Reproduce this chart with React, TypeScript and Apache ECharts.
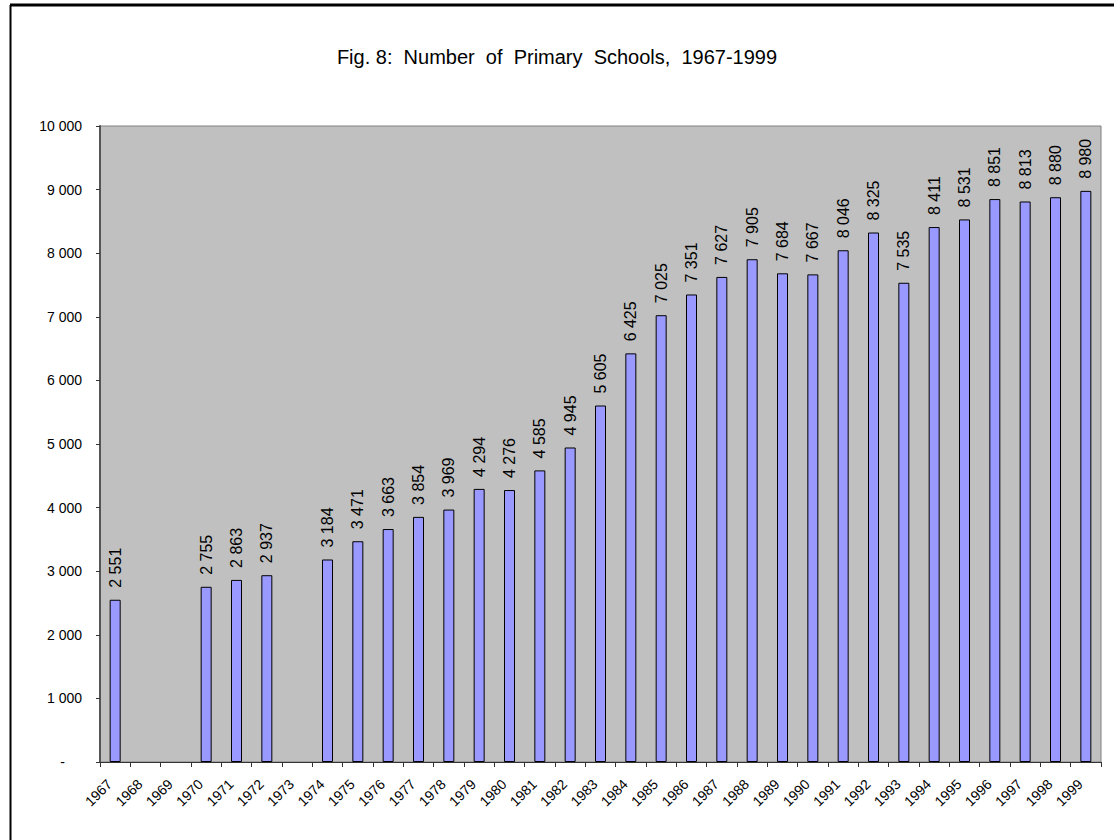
import React, { useEffect, useRef } from "react";
import * as echarts from "echarts";

const years = [
  "1967","1968","1969","1970","1971","1972","1973","1974","1975","1976","1977",
  "1978","1979","1980","1981","1982","1983","1984","1985","1986","1987","1988",
  "1989","1990","1991","1992","1993","1994","1995","1996","1997","1998","1999",
];
const schools: (number | null)[] = [
  2551, null, null, 2755, 2863, 2937, null, 3184, 3471, 3663, 3854,
  3969, 4294, 4276, 4585, 4945, 5605, 6425, 7025, 7351, 7627, 7905,
  7684, 7667, 8046, 8325, 7535, 8411, 8531, 8851, 8813, 8880, 8980,
];
const titleText = "Fig. 8:  Number  of  Primary  Schools,  1967-1999";

const FONT = "'Liberation Sans', Arial, sans-serif";
const fmt = (v: number) =>
  String(Math.round(v)).replace(/\B(?=(\d{3})+(?!\d))/g, " ");

export default function App() {
  const ref = useRef<HTMLDivElement>(null);
  useEffect(() => {
    if (!ref.current) return;
    const chart = echarts.init(ref.current, undefined, { renderer: "svg" });
    chart.setOption({
      animation: false,
      backgroundColor: "#ffffff",
      title: {
        text: titleText,
        left: "center",
        top: 42,
        textStyle: { fontFamily: FONT, fontSize: 20, fontWeight: "normal", color: "#000" },
      },
      grid: {
        left: 100,
        right: 13,
        top: 126,
        bottom: 78,
        show: true,
        backgroundColor: "#C0C0C0",
        borderColor: "#808080",
        borderWidth: 1,
      },
      xAxis: {
        type: "category",
        data: years,
        axisLine: { show: true, lineStyle: { color: "#333", width: 1 } },
        axisTick: { show: true, length: 5, lineStyle: { color: "#333" } },
        axisLabel: {
          rotate: 45,
          interval: 0,
          margin: 14,
          fontFamily: FONT,
          fontSize: 14,
          color: "#000",
          formatter: (v: string) => "{y|" + v + "}",
          rich: {
            y: { fontFamily: FONT, fontSize: 14, color: "#000", padding: [0, 8, 0, 0] },
          },
        },
      },
      yAxis: {
        type: "value",
        min: 0,
        max: 10000,
        interval: 1000,
        splitLine: { show: false },
        axisLine: { show: true, lineStyle: { color: "#555", width: 2 } },
        axisTick: { show: true, length: 4, lineStyle: { color: "#333" } },
        axisLabel: {
          margin: 18,
          fontFamily: FONT,
          fontSize: 14,
          color: "#000",
          formatter: (v: number) => (v === 0 ? "{z|-}" : fmt(v)),
          rich: {
            z: { fontFamily: FONT, fontSize: 14, color: "#000", padding: [0, 17, 0, 0] },
          },
        },
      },
      series: [
        {
          type: "bar",
          data: schools,
          barWidth: 11,
          itemStyle: { color: "#9999FF", borderColor: "#000", borderWidth: 1 },
          label: {
            show: true,
            position: "top",
            rotate: 90,
            align: "left",
            verticalAlign: "middle",
            distance: 12,
            fontFamily: FONT,
            fontSize: 16,
            color: "#000",
            formatter: (p: any) => fmt(p.value),
          },
        },
      ],
      graphic: [
        { type: "line", shape: { x1: 10, y1: 5, x2: 1114, y2: 5 }, style: { stroke: "#000", lineWidth: 3 } },
        { type: "line", shape: { x1: 10.5, y1: 5, x2: 10.5, y2: 840 }, style: { stroke: "#000", lineWidth: 2 } },
      ],
    });
    return () => chart.dispose();
  }, []);
  return (
    <div
      ref={ref}
      style={{ position: "absolute", left: 0, top: 0, width: 1114, height: 840 }}
    />
  );
}
